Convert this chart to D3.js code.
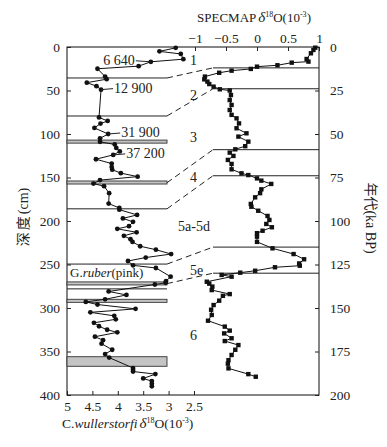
<!DOCTYPE html>
<html>
<head>
<meta charset="utf-8">
<script src="https://cdn.jsdelivr.net/npm/d3@7"></script>
<style>
  html, body { margin: 0; padding: 0; background: #fff; }
  svg { display: block; }
  text { font-family: 'Liberation Serif', 'Times New Roman', serif; fill: #222; }
  .cjk { font-family: 'Noto Sans CJK SC', sans-serif; }
</style>
</head>
<body>
<svg id="chart" width="387" height="447"></svg>
<script>
// C. wullerstorfi d18O against core depth (cm)
const coreDepth = [1, 5, 8, 14, 17, 22, 25, 34, 37, 41, 45, 49, 81, 85, 88, 93, 100, 105, 109, 112, 116, 120, 124, 129, 134, 138, 141, 145, 149, 153, 157, 160, 168, 180, 185, 187, 193, 197, 201, 206, 209, 213, 217, 221, 224, 229, 233, 238, 242, 246, 251, 254, 264, 269, 271, 273, 281, 285, 290, 293, 296, 301, 305, 309, 313, 317, 321, 325, 328, 333, 337, 341, 348, 353, 357, 369, 371, 373, 376, 381, 384, 387, 390];
const coreD18O = [2.86, 3.18, 2.76, 2.71, 3.35, 3.59, 4.40, 4.25, 4.22, 4.61, 4.42, 4.33, 4.37, 4.20, 4.34, 4.46, 4.19, 4.35, 4.35, 4.06, 4.03, 3.96, 4.09, 4.43, 4.12, 4.12, 4.11, 3.94, 3.61, 4.35, 4.48, 4.27, 4.17, 4.18, 3.97, 3.97, 3.62, 3.90, 3.70, 3.78, 4.01, 3.63, 3.88, 3.75, 3.71, 3.56, 3.25, 2.95, 3.45, 3.80, 3.70, 3.25, 2.96, 3.05, 3.06, 3.27, 4.18, 3.83, 4.25, 4.63, 4.40, 3.65, 4.54, 4.07, 4.04, 4.47, 4.37, 4.21, 4.01, 4.45, 4.29, 4.32, 4.11, 4.25, 4.17, 3.70, 3.70, 3.70, 3.26, 3.50, 3.33, 3.33, 3.33];

// SPECMAP stack d18O against age (ka BP)
const specAge = [0.4, 1.7, 3.6, 6.9, 8.4, 9, 10.5, 11.3, 12.6, 13.6, 14.8, 17, 18.6, 19.9, 21.3, 22.8, 24.3, 25, 27.6, 30.5, 33.3, 36.2, 39, 41, 43.9, 46.7, 49.6, 51.5, 54.4, 57, 58.8, 60.7, 62.6, 64.9, 67.2, 70.3, 72.6, 73.6, 75.5, 76.8, 78.7, 81.8, 84, 86.4, 90.2, 91.8, 94.1, 97.1, 99.4, 101.7, 103.6, 105.6, 107, 109, 112, 115.7, 119, 122, 124.4, 125.7, 126.6, 128.6, 129.7, 131, 132, 134.9, 136, 137.7, 139.7, 142, 143, 145.8, 148.3, 151, 154, 157.3, 160.7, 163, 164.6, 167.4, 169, 171.3, 174, 177, 180, 182, 184.7, 188, 189.5];
const specD18O = [0.94, 0.91, 0.87, 0.80, 0.83, 0.56, 0.33, 0.0, -0.10, -0.41, -0.61, -0.84, -0.85, -0.80, -0.77, -0.70, -0.60, -0.44, -0.42, -0.44, -0.41, -0.44, -0.41, -0.33, -0.29, -0.33, -0.17, -0.30, -0.14, -0.19, -0.35, -0.44, -0.38, -0.47, -0.41, -0.41, -0.25, -0.14, 0.0, 0.07, 0.23, 0.07, 0.05, -0.03, -0.10, -0.09, 0.02, 0.17, 0.20, 0.15, 0.24, 0.09, 0.0, 0.0, 0.0, 0.25, 0.59, 0.76, 0.68, 0.69, 0.29, -0.03, -0.27, -0.57, -0.41, -0.81, -0.77, -0.72, -0.73, -0.44, -0.55, -0.61, -0.70, -0.74, -0.73, -0.79, -0.52, -0.44, -0.53, -0.41, -0.52, -0.30, -0.35, -0.41, -0.46, -0.47, -0.46, -0.14, -0.02];

// stage boundaries: core depth (cm) linked to SPECMAP age (ka)
const boundDepth = [35.6, 79.3, 156, 186, 249.5, 272];
const boundAge = [12, 24, 59, 74, 115, 130];
// extra plain lines in the core panel (cm)
const extraLines = [278];
// grey sample bands in the core panel [top, bottom] (cm)
const bandTop = [107, 154, 270, 290, 356];
const bandBottom = [110.5, 157.5, 273.5, 293.5, 367];

const stageNames = ['1', '2', '3', '4', '5a-5d', '5e', '6'];
const stageDepth = [15, 55, 104, 149, 206, 256, 331];

// 14C dates (a BP) with the core depth they point to
const dateText = ['6 640', '12 900', '31 900', '37 200'];
const dateDepth = [17, 49, 100, 124];
const dateSide = ['left', 'right', 'right', 'right'];

const coreTicks = [5, 4.5, 4, 3.5, 3, 2.5];
const specTicks = [-1, -0.5, 0, 0.5, 1];

const svg = d3.select('#chart');
const plotLeft = 67, plotRight = 319, plotTop = 47, plotBottom = 395, split = 167, linkEnd = 213;

const y = d3.scaleLinear().domain([0, 400]).range([plotTop, plotBottom]);
const yAge = d3.scaleLinear().domain([0, 200]).range([plotTop, plotBottom]);
const xCore = d3.scaleLinear().domain([5, 2.5]).range([plotLeft, 194]);
const xSpec = d3.scaleLinear().domain([-1, 1]).range([195, plotRight]);

// frame
svg.append('rect')
  .attr('x', plotLeft).attr('y', plotTop)
  .attr('width', plotRight - plotLeft).attr('height', plotBottom - plotTop)
  .attr('fill', 'none').attr('stroke', '#222').attr('stroke-width', 1.1);

// axes
const axisStyle = (g) => {
  g.select('.domain').remove();
  g.selectAll('line').attr('stroke', '#222');
  g.selectAll('text').style('font-family', "'Liberation Serif', serif").style('font-size', '13.5px').attr('fill', '#222');
};

svg.append('g')
  .attr('transform', `translate(${plotLeft},0)`)
  .call(d3.axisLeft(y).tickValues(d3.range(0, 401, 50)).tickSize(-4).tickPadding(7))
  .call(axisStyle);

svg.append('g')
  .attr('transform', `translate(${plotRight},0)`)
  .call(d3.axisRight(yAge).tickValues(d3.range(0, 201, 25)).tickSize(-4).tickPadding(11))
  .call(axisStyle);

svg.append('g')
  .attr('transform', `translate(0,${plotBottom})`)
  .call(d3.axisBottom(xCore).tickValues(coreTicks).tickSize(-4).tickPadding(6).tickFormat(d3.format('')))
  .call(axisStyle);

svg.append('g')
  .attr('transform', `translate(0,${plotTop})`)
  .call(d3.axisTop(xSpec).tickValues(specTicks).tickSize(-4).tickPadding(4).tickFormat(d3.format('')))
  .call(axisStyle);

// grey bands
svg.append('g')
  .selectAll('rect')
  .data(bandTop)
  .join('rect')
  .attr('x', plotLeft)
  .attr('y', (d) => y(d))
  .attr('width', split - plotLeft)
  .attr('height', (d, i) => y(bandBottom[i]) - y(d))
  .attr('fill', '#c4c4c4')
  .attr('stroke', '#333')
  .attr('stroke-width', 0.9);

// core-side boundary lines
svg.append('g')
  .selectAll('line')
  .data(boundDepth.filter((d) => bandTop.every((t, i) => d < t || d > bandBottom[i])).concat(extraLines))
  .join('line')
  .attr('x1', plotLeft).attr('x2', split)
  .attr('y1', (d) => y(d)).attr('y2', (d) => y(d))
  .attr('stroke', '#222').attr('stroke-width', 1);

// SPECMAP-side boundary lines
svg.append('g')
  .selectAll('line')
  .data(boundAge)
  .join('line')
  .attr('x1', linkEnd).attr('x2', plotRight)
  .attr('y1', (d) => yAge(d)).attr('y2', (d) => yAge(d))
  .attr('stroke', '#222').attr('stroke-width', 1);

// dashed correlation links
svg.append('g')
  .selectAll('line')
  .data(boundDepth)
  .join('line')
  .attr('x1', split).attr('x2', linkEnd)
  .attr('y1', (d) => y(d)).attr('y2', (d, i) => yAge(boundAge[i]))
  .attr('stroke', '#222').attr('stroke-width', 1)
  .attr('stroke-dasharray', '6,4');

// G. ruber (pink) label
const ruber = svg.append('text')
  .attr('x', plotLeft + 3)
  .attr('y', y(249.5) + 13)
  .style('font-size', '13px');
ruber.append('tspan').text('G.');
ruber.append('tspan').style('font-style', 'italic').text('ruber');
ruber.append('tspan').text('(pink)');

// core series
const coreLine = d3.line()
  .x((d, i) => xCore(coreD18O[i]))
  .y((d) => y(d));

svg.append('path')
  .attr('d', coreLine(coreDepth))
  .attr('fill', 'none')
  .attr('stroke', '#111')
  .attr('stroke-width', 1);

svg.append('g')
  .selectAll('circle')
  .data(coreDepth)
  .join('circle')
  .attr('cx', (d, i) => xCore(coreD18O[i]))
  .attr('cy', (d) => y(d))
  .attr('r', 2.4)
  .attr('fill', '#111');

// SPECMAP series
const specLine = d3.line()
  .x((d, i) => xSpec(specD18O[i]))
  .y((d) => yAge(d));

svg.append('path')
  .attr('d', specLine(specAge))
  .attr('fill', 'none')
  .attr('stroke', '#111')
  .attr('stroke-width', 1);

svg.append('g')
  .selectAll('rect')
  .data(specAge)
  .join('rect')
  .attr('x', (d, i) => xSpec(specD18O[i]) - 2.2)
  .attr('y', (d) => yAge(d) - 2.2)
  .attr('width', 4.4)
  .attr('height', 4.4)
  .attr('fill', '#111');

// stage numbers
svg.append('g')
  .selectAll('text')
  .data(stageNames)
  .join('text')
  .attr('x', (d) => d.length > 2 ? 178 : 190)
  .attr('y', (d, i) => y(stageDepth[i]) + 5)
  .style('font-size', '14px')
  .text((d) => d);

// 14C dates with leaders
dateText.forEach((t, i) => {
  const idx = coreDepth.indexOf(dateDepth[i]);
  const px = xCore(coreD18O[idx]);
  const py = y(dateDepth[i]);
  const onLeft = dateSide[i] === 'left';
  const tx = onLeft ? px - 16 : px + 13;
  svg.append('line')
    .attr('x1', px).attr('y1', py)
    .attr('x2', onLeft ? tx + 1 : tx - 1).attr('y2', py - 1)
    .attr('stroke', '#222').attr('stroke-width', 1);
  svg.append('text')
    .attr('x', tx)
    .attr('y', py + 3)
    .attr('text-anchor', onLeft ? 'end' : 'start')
    .style('font-size', '14px')
    .text(t);
});

// axis titles
const topTitle = svg.append('text')
  .attr('x', 197)
  .attr('y', 22)
  .style('font-size', '13px');
topTitle.append('tspan').text('SPECMAP');
topTitle.append('tspan').attr('dx', 2).style('font-style', 'italic').style('font-size', '15px').text('δ');
topTitle.append('tspan').attr('dy', -5).style('font-size', '8px').text('18');
topTitle.append('tspan').attr('dy', 5).text('O(10');
topTitle.append('tspan').attr('dy', -5).style('font-size', '8px').text('-3');
topTitle.append('tspan').attr('dy', 5).text(')');

const bottomTitle = svg.append('text')
  .attr('x', 62)
  .attr('y', 428)
  .style('font-size', '13.5px');
bottomTitle.append('tspan').text('C.');
bottomTitle.append('tspan').style('font-style', 'italic').text('wullerstorfi');
bottomTitle.append('tspan').attr('dx', 2).style('font-style', 'italic').style('font-size', '15px').text('δ');
bottomTitle.append('tspan').attr('dy', -5).style('font-size', '8px').text('18');
bottomTitle.append('tspan').attr('dy', 5).text('O(10');
bottomTitle.append('tspan').attr('dy', -5).style('font-size', '8px').text('-3');
bottomTitle.append('tspan').attr('dy', 5).text(')');

const yTitle = svg.append('text')
  .attr('transform', 'translate(28,217) rotate(-90)')
  .attr('text-anchor', 'middle')
  .style('font-size', '14px');
yTitle.append('tspan').attr('class', 'cjk').style('letter-spacing', '2px').text('深度');
yTitle.append('tspan').text('(cm)');

const ageTitle = svg.append('text')
  .attr('transform', 'translate(366,218) rotate(90)')
  .attr('text-anchor', 'middle')
  .style('font-size', '14px');
ageTitle.append('tspan').attr('class', 'cjk').text('年代');
ageTitle.append('tspan').text('(ka BP)');
</script>
</body>
</html>
